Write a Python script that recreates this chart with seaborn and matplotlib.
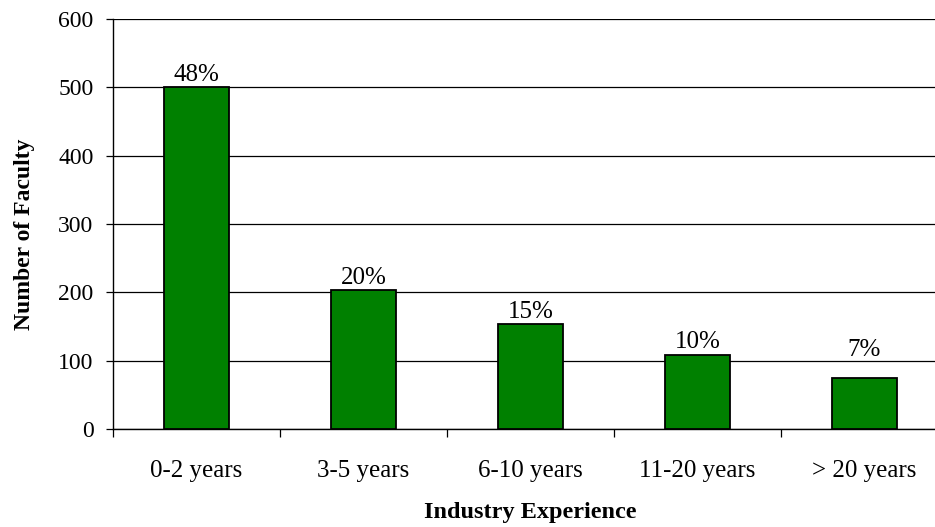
import matplotlib
matplotlib.use("Agg")
import matplotlib.pyplot as plt
import seaborn as sns
import pandas as pd
from matplotlib.ticker import FixedLocator

categories = ["0-2 years", "3-5 years", "6-10 years", "11-20 years", "> 20 years"]
faculty = [500, 203, 153, 109, 75]
pct_labels = ["48%", "20%", "15%", "10%", "7%"]
yticks = [0, 100, 200, 300, 400, 500, 600]

sns.set_theme(style="white")
plt.rcParams["font.family"] = ["Liberation Serif", "DejaVu Serif"]

df = pd.DataFrame({"cat": categories, "val": faculty})

fig = plt.figure(figsize=(9.35, 5.27), dpi=100)
ax = fig.add_axes([113/935, 1-429/527, 835/935, 410/527])

sns.barplot(data=df, x="cat", y="val", color="#008000", width=0.39,
            edgecolor="black", linewidth=1.3, saturation=1, ax=ax, zorder=3)

ax.set_ylim(0, 600)
ax.set_xlim(-0.5, 4.5)
ax.set_yticks(yticks)
ax.yaxis.grid(True, color="black", linewidth=0.9, zorder=0)
ax.set_axisbelow(True)

for s in ["top", "right"]:
    ax.spines[s].set_visible(False)
for s in ["left", "bottom"]:
    ax.spines[s].set_color("black")
    ax.spines[s].set_linewidth(1.0)

ax.tick_params(axis="y", which="major", left=True, length=5, width=0.9, color="black",
               labelsize=17, pad=9, labelcolor="black")
ax.tick_params(axis="x", which="major", bottom=False, length=0, labelsize=18, pad=22.5,
               labelcolor="black")
ax.xaxis.set_minor_locator(FixedLocator([-0.5, 0.5, 1.5, 2.5, 3.5, 4.5]))
ax.tick_params(axis="x", which="minor", bottom=True, length=6, width=0.9, color="black")

# label offsets (points) above bar tops; the last label sits higher in the original
label_offsets = [1, 1, 1, 1, 12]
for i, p in enumerate(ax.patches):
    ax.annotate(pct_labels[i], (p.get_x() + p.get_width()/2, p.get_height()),
                xytext=(0, label_offsets[i]), textcoords="offset points",
                ha="center", va="bottom", fontsize=18, color="black")

ax.set_xlabel("Industry Experience", fontsize=17.5, fontweight="bold", labelpad=14, color="black")
ax.set_ylabel("Number of Faculty", fontsize=17, fontweight="bold", color="black")
ax.yaxis.set_label_coords(-0.0934, 0.4756)

fig.savefig("out.png", dpi=100)
